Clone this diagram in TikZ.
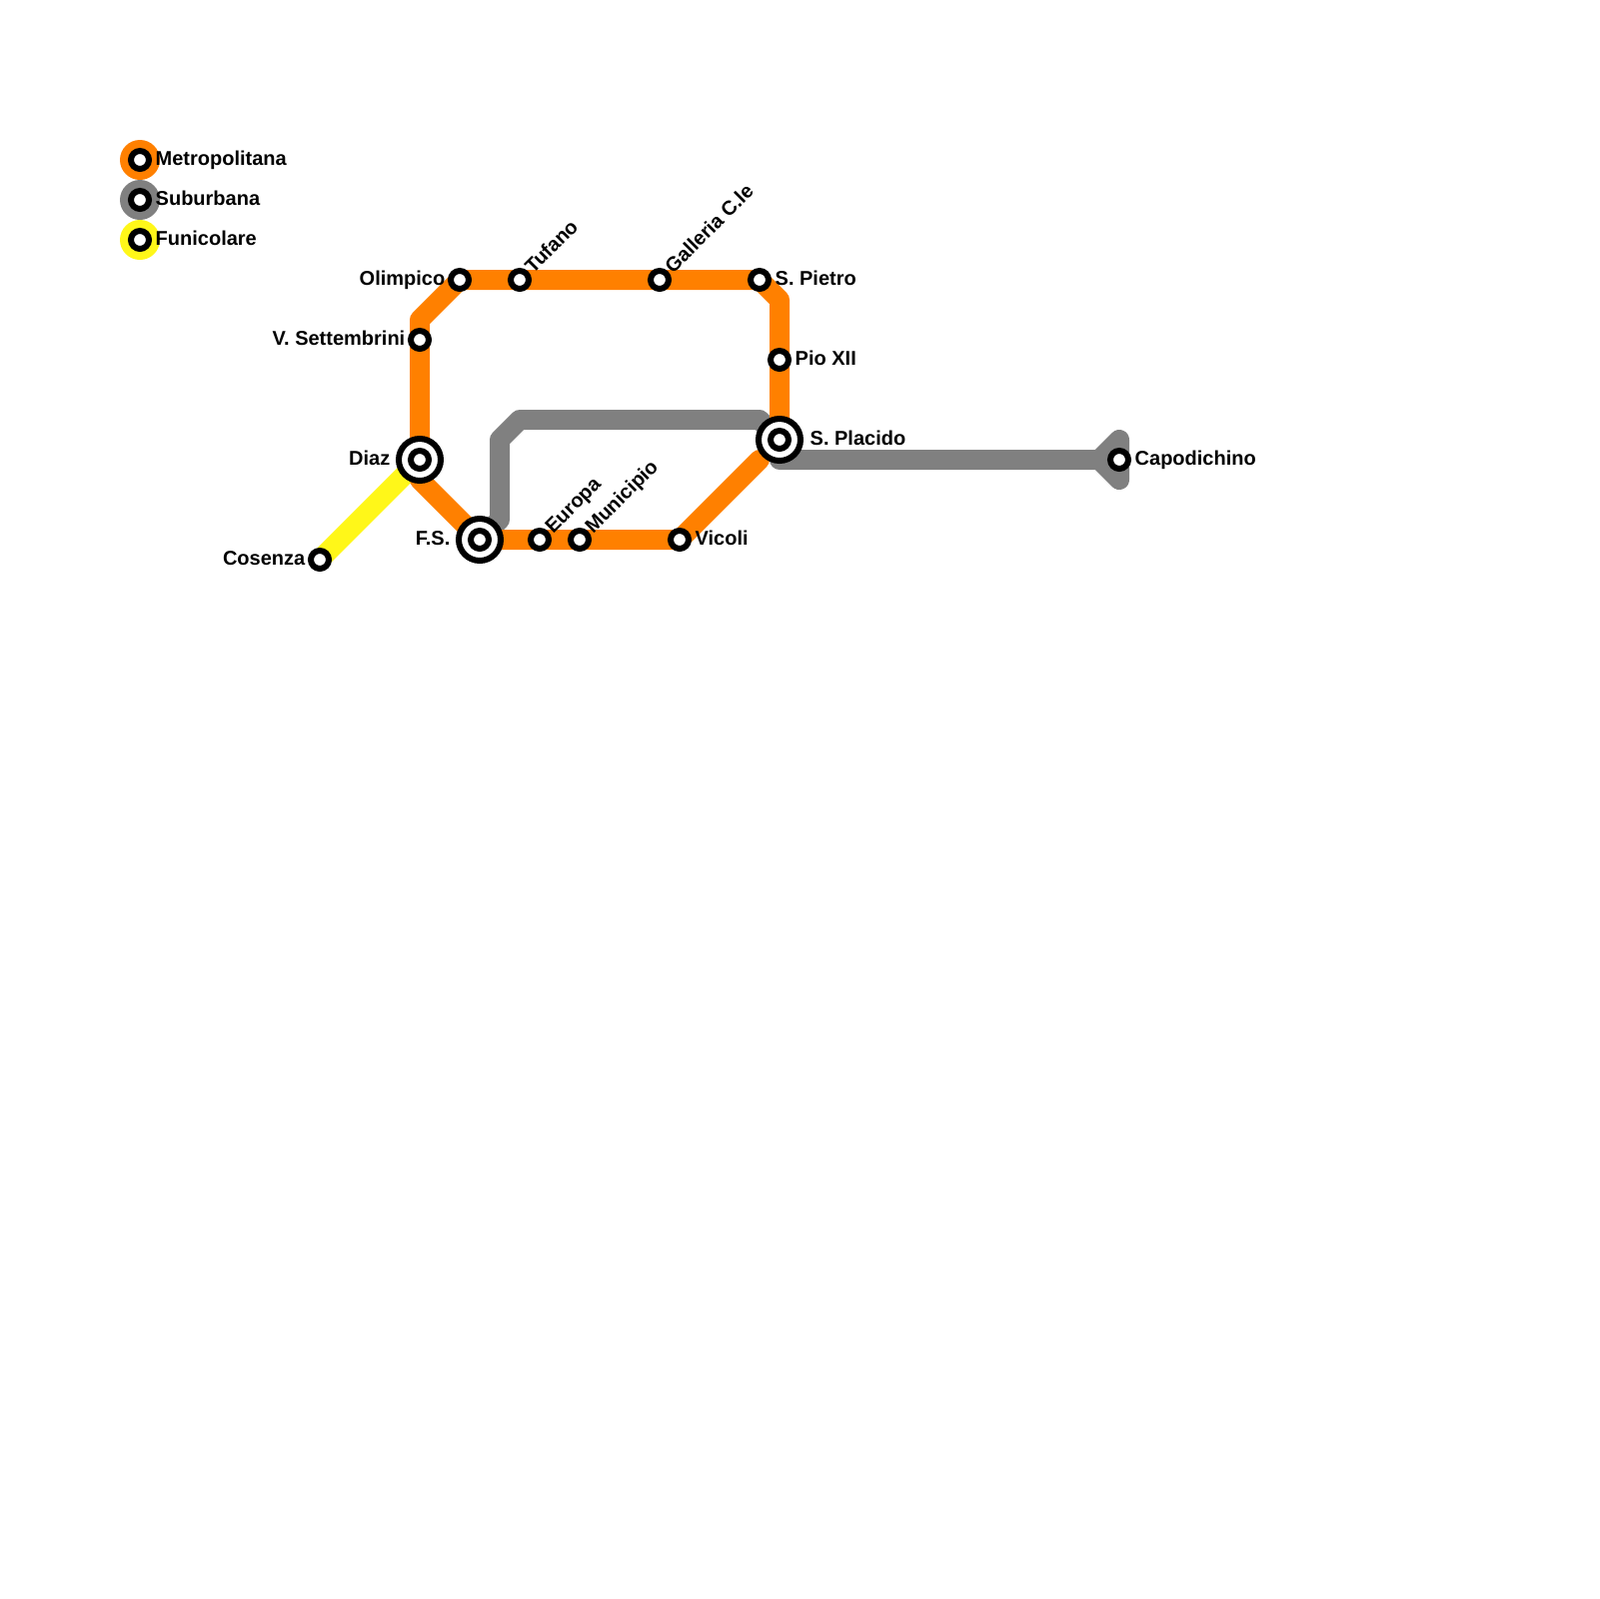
\documentclass[tikz,border=0pt]{standalone}
\usepackage{fontspec}
\setmainfont{Liberation Sans}
\usetikzlibrary{backgrounds}
\definecolor{metro}{RGB}{255,128,0}
\definecolor{suburb}{RGB}{128,128,128}
\definecolor{funi}{RGB}{255,247,25}
\tikzset{
  x=0.1mm,y=-0.1mm,
  route/.style={draw=#1,line width=2mm,line join=round,line cap=round},
  stop/.style={circle,draw=black,fill=white,line width=0.6mm,minimum size=1.8mm,inner sep=0pt},
  hub/.style={circle,draw=black,fill=white,line width=0.6mm,minimum size=4.2mm,inner sep=0pt},
  disc/.style={circle,fill=#1,minimum size=4mm,inner sep=0pt},
  tag/.style={font=\fontsize{5.69}{6.5}\selectfont\bfseries,inner sep=0pt},
  tag right/.style={tag,anchor=base west,xshift=#1,yshift=-0.5mm},
  tag right/.default=1.5mm,
  tag left/.style={tag,anchor=base east,xshift=#1,yshift=-0.5mm},
  tag left/.default=-1.4mm,
  tag up/.style={tag,anchor=base west,xshift=1.3mm,yshift=0.5mm,rotate=45},
}
\begin{document}
\begin{tikzpicture}
  \useasboundingbox (0,0) rectangle (1600,1600);
  % bends
  \foreach \n/\x/\y in {b1/420/320,b2/780/300,b3/760/460,b4/420/480,b5/500/520,b6/500/440,b7/520/420,
    b8/760/420,b9/780/460,b10/1100/460,b11/1120/440,b12/1120/480}
    \coordinate (\n) at (\x,\y);
  % interchanges
  \foreach \n/\x/\y in {diaz/420/460,fs/480/540,placido/780/440}{
    \node[hub] (\n ring) at (\x,\y) {};
    \node[stop] (\n) at (\x,\y) {};
  }
  % plain stops
  \foreach \n/\x/\y in {olimpico/460/280,tufano/520/280,galleria/660/280,pietro/760/280,pio/780/360,
    settembrini/420/340,europa/540/540,municipio/580/540,vicoli/680/540,cosenza/320/560,capodichino/1120/460}
    \node[stop] (\n) at (\x,\y) {};
  % legend
  \foreach \n/\y/\c/\t in {metropolitana/160/metro/Metropolitana,suburbana/200/suburb/Suburbana,funicolare/240/funi/Funicolare}{
    \node[disc=\c] (\n disc) at (140,\y) {};
    \node[stop] (\n) at (140,\y) {};
    \node[tag right] (\n tag) at (\n.center) {\t};
  }
  \begin{pgfonlayer}{background}
    \draw[route=funi] (cosenza.center) -- (diaz.center);
    \draw[route=suburb] (fs.center) -- (b5) -- (b6) -- (b7) -- (b8) -- (placido.center) -- (b9) -- (b10)
      -- (b11) -- (b12) -- (b10) -- (capodichino.center);
    \draw[route=metro] (fs.center) -- (b4) -- (diaz.center) -- (settembrini.center) -- (b1) -- (olimpico.center)
      -- (tufano.center) -- (galleria.center) -- (pietro.center) -- (b2) -- (pio.center) -- (placido.center);
    \draw[route=metro] (fs.center) -- (europa.center) -- (municipio.center) -- (vicoli.center) -- (b3);
  \end{pgfonlayer}
  % labels
  \node[tag left] (tagolimpico) at (olimpico.center) {Olimpico};
  \node[tag left] (tagsettembrini) at (settembrini.center) {V. Settembrini};
  \node[tag left=-2.9mm] (tagdiaz) at (diaz.center) {Diaz};
  \node[tag left=-2.9mm] (tagfs) at (fs.center) {F.S.};
  \node[tag left] (tagcosenza) at (cosenza.center) {Cosenza};
  \node[tag right] (tagpietro) at (pietro.center) {S. Pietro};
  \node[tag right] (tagpio) at (pio.center) {Pio XII};
  \node[tag right=3mm] (tagplacido) at (placido.center) {S. Placido};
  \node[tag right] (tagvicoli) at (vicoli.center) {Vicoli};
  \node[tag right] (tagcapodichino) at (capodichino.center) {Capodichino};
  \node[tag up] (tagtufano) at (tufano.center) {Tufano};
  \node[tag up] (taggalleria) at (galleria.center) {Galleria C.le};
  \node[tag up] (tageuropa) at (europa.center) {Europa};
  \node[tag up] (tagmunicipio) at (municipio.center) {Municipio};
\end{tikzpicture}
\end{document}
